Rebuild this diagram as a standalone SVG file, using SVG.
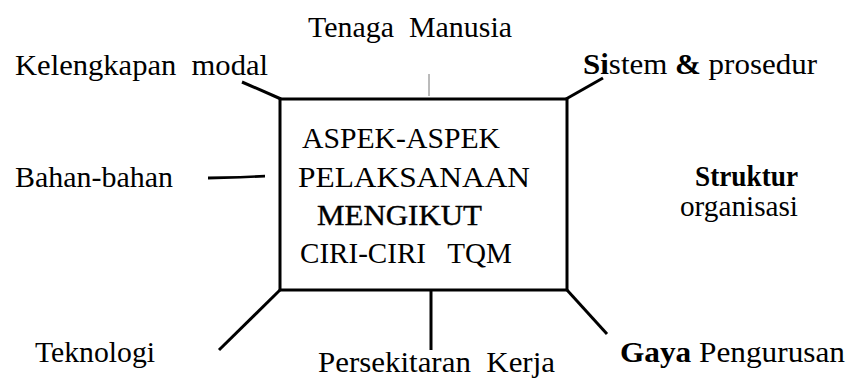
<svg xmlns="http://www.w3.org/2000/svg" width="848" height="379" viewBox="0 0 848 379">
  <style>
    text { font-family: "Liberation Serif", "Times New Roman", serif; font-size: 30px; fill: #000; }
    .b { font-weight: bold; }
    .heavy { stroke: #000; stroke-width: 0.4px; }
    .box { fill: #fff; stroke: #000; stroke-width: 3; }
    .link { stroke: #000; stroke-width: 3; fill: none; stroke-linecap: butt; }
    .thin { stroke: #777; stroke-width: 1; fill: none; }
  </style>
  <rect width="848" height="379" fill="#fff"/>

  <!-- spokes from the central box -->
  <g id="connectors">
    <line class="link" x1="242" y1="82" x2="281" y2="99"/>
    <line class="thin" x1="429" y1="74" x2="429" y2="96"/>
    <line class="link" x1="566" y1="99" x2="603" y2="78"/>
    <polygon points="208,176.5 240,176 265,174.8 265,177.5 240,178.5 208,179.5" fill="#000"/>
    <line class="link" x1="280" y1="290" x2="219" y2="350"/>
    <line class="link" x1="431" y1="291" x2="431" y2="350"/>
    <line class="link" x1="567" y1="290" x2="607" y2="334"/>
  </g>

  <g id="centre">
    <rect class="box" x="280" y="99" width="287" height="191"/>
    <text x="302" y="148" textLength="198" lengthAdjust="spacingAndGlyphs">ASPEK-ASPEK</text>
    <text x="298" y="187" textLength="232" lengthAdjust="spacingAndGlyphs">PELAKSANAAN</text>
    <text class="heavy" x="317" y="225" textLength="165" lengthAdjust="spacingAndGlyphs">MENGIKUT</text>
    <text x="300" y="263" textLength="212" lengthAdjust="spacingAndGlyphs" xml:space="preserve">CIRI-CIRI   TQM</text>
  </g>

  <g id="tenaga-manusia">
    <text x="308" y="37" textLength="204" lengthAdjust="spacingAndGlyphs" xml:space="preserve">Tenaga  Manusia</text>
  </g>

  <g id="kelengkapan-modal">
    <text x="15" y="75" textLength="253" lengthAdjust="spacingAndGlyphs" xml:space="preserve">Kelengkapan  modal</text>
  </g>

  <g id="sistem-prosedur">
    <text x="583" y="74" textLength="234" lengthAdjust="spacingAndGlyphs" xml:space="preserve"><tspan class="b">Si</tspan>stem <tspan class="b">&amp;</tspan> prosedur</text>
  </g>

  <g id="bahan-bahan">
    <text x="15" y="187" textLength="158" lengthAdjust="spacingAndGlyphs">Bahan-bahan</text>
  </g>

  <g id="struktur-organisasi">
    <text class="b" x="695" y="186" textLength="103" lengthAdjust="spacingAndGlyphs">Struktur</text>
    <text x="680" y="216" textLength="118" lengthAdjust="spacingAndGlyphs">organisasi</text>
  </g>

  <g id="teknologi">
    <text x="35" y="362" textLength="120" lengthAdjust="spacingAndGlyphs">Teknologi</text>
  </g>

  <g id="persekitaran-kerja">
    <text x="318" y="372" textLength="237" lengthAdjust="spacingAndGlyphs" xml:space="preserve">Persekitaran  Kerja</text>
  </g>

  <g id="gaya-pengurusan">
    <text x="620" y="362" textLength="225" lengthAdjust="spacingAndGlyphs"><tspan class="b">Gaya</tspan> Pengurusan</text>
  </g>
</svg>
